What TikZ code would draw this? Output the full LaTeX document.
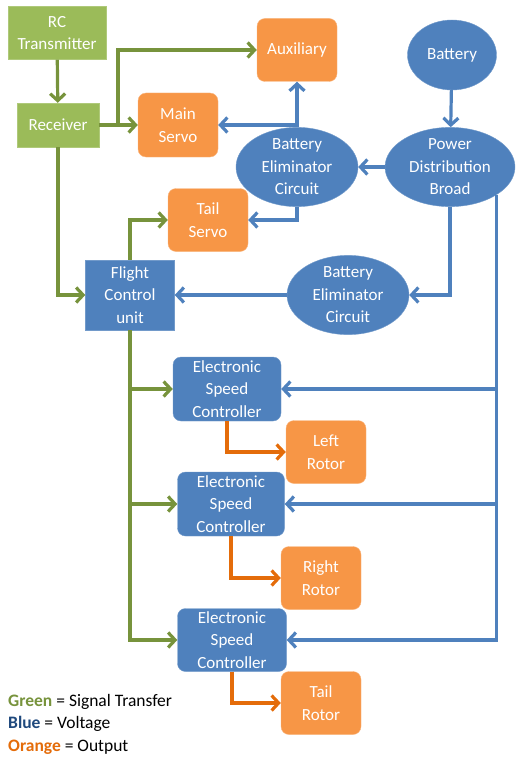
\documentclass[tikz,border=0pt]{standalone}
\usepackage{fontspec}
\setmainfont{Carlito}
\usetikzlibrary{shapes.geometric,arrows.meta,positioning}
\definecolor{ofcgreen}{HTML}{9BBB59}
\definecolor{ofcgreenline}{HTML}{77933C}
\definecolor{ofcblue}{HTML}{4F81BD}
\definecolor{ofcbluedark}{HTML}{1F497D}
\definecolor{ofcorange}{HTML}{F79646}
\definecolor{ofcorangeline}{HTML}{E46C0A}

\begin{document}
\begin{tikzpicture}[x=1pt, y=-1pt,
    boxtext/.style={text=white, align=center, inner sep=0pt, font=\fontsize{17}{22.5}\selectfont},
    gbox/.style={boxtext, rectangle, draw=ofcgreen!80!white, fill=ofcgreen},
    obox/.style={boxtext, rectangle, rounded corners=8pt, draw=ofcorange!70!white, fill=ofcorange, minimum width=80pt, minimum height=63pt},
    bbox/.style={boxtext, rectangle, rounded corners=8pt, draw=ofcblue!80!white, fill=ofcblue},
    bell/.style={boxtext, ellipse, draw=ofcblue!80!white, fill=ofcblue},
    sig/.style={->, draw=ofcgreenline, line width=3.2pt},
    volt/.style={->, draw=ofcblue, line width=3.2pt},
    outp/.style={->, draw=ofcorangeline, line width=3.2pt},
    legend/.style={anchor=west, inner sep=0pt, font=\fontsize{17.5}{20}\selectfont},
    >={Straight Barb[length=7pt,width=15pt]}
]
    \useasboundingbox (0,0) rectangle (516,757);

    % Signal chain
    \node[gbox, minimum width=98pt, minimum height=53pt] (rctx) at (57,33) {RC\\Transmitter};
    \node[gbox, minimum width=82pt, minimum height=44pt] (rx) at (58,125) {Receiver};

    % Servos and auxiliary
    \node[obox] (aux) at (297,50) {Auxiliary};
    \node[obox, minimum height=64pt] (mainservo) at (178,125) {Main\\Servo};
    \node[obox] (tailservo) at (208,220) {Tail\\Servo};

    % Power
    \node[bell, minimum width=89pt, minimum height=70pt] (battery) at (452,55) {Battery};
    \node[bell, minimum width=130pt, minimum height=70pt] (pdb) at (450,167) {Power\\Distribution\\Broad};
    \node[bell, minimum width=122pt, minimum height=73pt] (bec1) at (297,167) {Battery\\Eliminator\\Circuit};
    \node[bell, minimum width=122pt, minimum height=74pt] (bec2) at (348,295) {Battery\\Eliminator\\Circuit};

    % Flight control
    \node[boxtext, rectangle, draw=ofcblue!80!white, fill=ofcblue, minimum width=89pt, minimum height=70pt] (fcu) at (130,295) {Flight\\Control\\unit};

    % Speed controllers and rotors
    \node[bbox, minimum width=108pt, minimum height=64pt] (esc1) at (227,389) {Electronic\\Speed\\Controller};
    \node[obox] (leftrotor) at (326,452) {Left\\Rotor};
    \node[bbox, minimum width=107pt, minimum height=64pt] (esc2) at (231,504) {Electronic\\Speed\\Controller};
    \node[obox] (rightrotor) at (321,578) {Right\\Rotor};
    \node[bbox, minimum width=109pt, minimum height=63pt] (esc3) at (232,640) {Electronic\\Speed\\Controller};
    \node[obox] (tailrotor) at (321,703) {Tail\\Rotor};

    % Green connectors
    \coordinate (sigsplit) at (118,125);
    \draw[sig] (rctx) -- (rx);
    \draw[sig] (rx) -- (mainservo);
    \draw[sig] (sigsplit) |- (aux.west);
    \draw[sig] (rx.south) |- (fcu.west);
    \draw[sig] (fcu.north) |- (tailservo.west);
    \draw[sig] (fcu.south) |- (esc1.west);
    \draw[sig] (fcu.south) |- (esc2.west);
    \draw[sig] (fcu.south) |- (esc3.west);

    % Blue connectors
    \draw[volt] (battery) -- (pdb);
    \draw[volt] (pdb) -- (bec1);
    \draw[volt] (bec1.north) -- (aux.south);
    \draw[volt] (bec1.north |- mainservo.east) -- (mainservo.east);
    \draw[volt] (bec1.south) |- (tailservo.east);
    \draw[volt] (pdb.south) |- (bec2.east);
    \draw[volt] (bec2) -- (fcu);
    \draw[volt] (pdb.south east) |- (esc1.east);
    \draw[volt] (pdb.south east) |- (esc2.east);
    \draw[volt] (pdb.south east) |- (esc3.east);

    % Orange connectors
    \draw[outp] (esc1.south) |- (leftrotor.west);
    \draw[outp] (esc2.south) |- (rightrotor.west);
    \draw[outp] (esc3.south) |- (tailrotor.west);

    % Legend
    \node[legend] (legsig) at (8,702) {\textbf{\color{ofcgreenline}Green} = Signal Transfer};
    \node[legend] (legvolt) at (8,724) {\textbf{\color{ofcbluedark}Blue} = Voltage};
    \node[legend] (legout) at (8,747) {\textbf{\color{ofcorangeline}Orange} = Output};
\end{tikzpicture}
\end{document}
